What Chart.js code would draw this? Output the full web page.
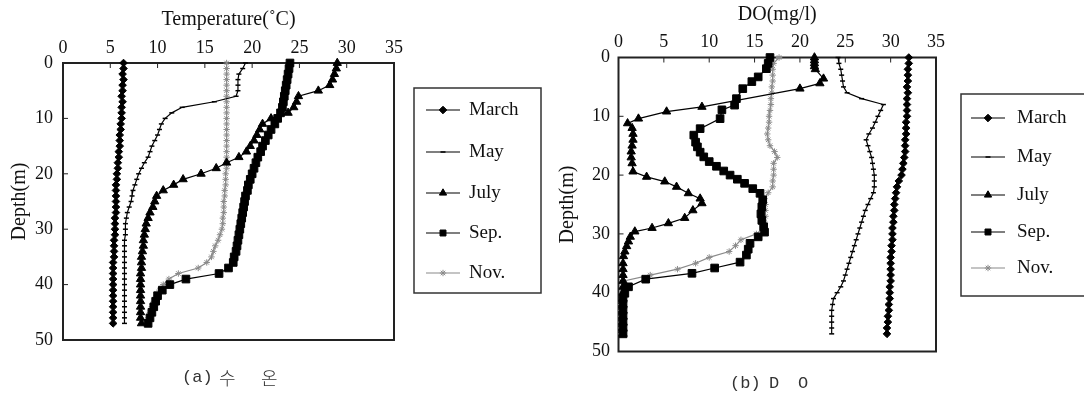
<!DOCTYPE html>
<html><head><meta charset="utf-8">
<script src="https://cdn.jsdelivr.net/npm/chart.js@4.4.1/dist/chart.umd.min.js"></script>
<style>
html,body{margin:0;padding:0;background:#fff;width:1084px;height:397px;overflow:hidden;position:relative}
canvas{position:absolute;top:0}
.cap{position:absolute;font-family:"Liberation Mono","Noto Sans CJK KR",monospace;font-size:17px;color:#333;line-height:18px;white-space:pre}
.hg{font-family:"Noto Sans CJK KR",sans-serif;font-weight:300;font-size:18px}
</style></head><body>
<canvas id="c1" width="548" height="397" style="left:0"></canvas>
<canvas id="c2" width="534" height="397" style="left:550px"></canvas>
<div class="cap" style="left:182px;top:369px">(a)</div>
<div class="cap hg" style="left:219px;top:368px">수</div>
<div class="cap hg" style="left:261px;top:368px">온</div>
<div class="cap" style="left:730px;top:375px">(b)</div>
<div class="cap" style="left:769px;top:375px">D</div>
<div class="cap" style="left:798px;top:375px">O</div>
<script>
// ---------- data ----------
const seriesNames = ['March','May','July','Sep.','Nov.'];
const xTicksTemp = [0,5,10,15,20,25,30,35];
const xTicksDO = [0,5,10,15,20,25,30,35];
const depthTicks = [0,10,20,30,40,50];

const depth0to47 = [0,1,2,3,4,5,6,7,8,9,10,11,12,13,14,15,16,17,18,19,20,21,22,23,24,25,26,27,28,29,30,31,32,33,34,35,36,37,38,39,40,41,42,43,44,45,46,47];
const depth0to46 = [0,1,2,3,4,5,6,7,8,9,10,11,12,13,14,15,16,17,18,19,20,21,22,23,24,25,26,27,28,29,30,31,32,33,34,35,36,37,38,39,40,41,42,43,44,45,46];

// Temperature (deg C)
const tempMarch = [6.4,6.4,6.3,6.4,6.3,6.3,6.2,6.3,6.2,6.2, 6.2,6.1,6.1,6.0,6.0,6.0,5.9,5.9,5.8,5.8, 5.7,5.7,5.6,5.6,5.6,5.6,5.6,5.6,5.5,5.5, 5.5,5.5,5.4,5.4,5.4,5.4,5.3,5.3,5.3,5.3, 5.3,5.3,5.3,5.3,5.3,5.3,5.3,5.3];
const tempMay = [19.3,19.0,18.6,18.5,18.5,18.5,18.3,16.0,12.6,11.5, 10.8,10.4,10.2,10.0,9.7,9.4,9.2,9.0,8.6,8.3, 8.0,7.8,7.6,7.4,7.3,7.2,7.0,6.8,6.7,6.6, 6.6,6.6,6.5,6.5,6.5,6.5,6.5,6.5,6.5,6.5, 6.5,6.5,6.5,6.5,6.5,6.5,6.5,6.5];
const tempJuly = [29.0,28.9,28.7,28.5,28.2,27.0,24.9,24.7,24.4,23.8, 22.0,21.1,20.8,20.5,20.2,19.8,19.4,18.6,17.3,16.2, 14.6,12.7,11.7,10.6,9.9,9.7,9.5,9.2,9.0,8.8, 8.7,8.6,8.5,8.5,8.4,8.3,8.3,8.3,8.2,8.2, 8.2,8.2,8.2,8.2,8.2,8.2,8.2,8.3];
const tempSep = [24.0,23.9,23.8,23.7,23.6,23.5,23.4,23.3,23.2,23.0, 22.7,22.4,22.0,21.7,21.4,21.1,20.9,20.6,20.4,20.2, 20.0,19.8,19.6,19.5,19.3,19.2,19.1,19.0,18.9,18.8, 18.7,18.6,18.5,18.4,18.3,18.1,18.0,17.5,16.5,13.0, 11.3,10.5,10.0,9.8,9.6,9.4,9.2,9.0];
const tempNov = [17.3,17.3,17.3,17.3,17.3,17.3,17.3,17.3,17.3,17.3, 17.3,17.3,17.3,17.3,17.3,17.3,17.3,17.3,17.3,17.3, 17.2,17.2,17.2,17.1,17.1,17.0,17.0,17.0,16.9,16.9, 16.8,16.6,16.4,16.1,15.9,15.7,15.2,14.3,12.2,11.2, 10.6,10.2,9.9,9.6,9.4,9.2,9.0];

// DO (mg/l)
const doMarch = [32.0,32.0,31.9,31.9,31.9,31.8,31.9,31.8,31.8,31.8, 31.8,31.7,31.7,31.7,31.6,31.6,31.6,31.5,31.4,31.3, 31.2,30.9,30.7,30.6,30.5,30.4,30.4,30.3,30.3,30.2, 30.2,30.2,30.1,30.1,30.0,30.0,30.0,30.0,30.0,29.9, 29.9,29.9,29.8,29.8,29.7,29.7,29.6,29.6];
const doMay = [24.2,24.3,24.5,24.6,24.7,24.8,25.2,26.8,29.2,28.9, 28.6,28.3,28.0,27.6,27.3,27.5,27.7,27.9,28.0,28.1, 28.2,28.2,28.2,28.1,27.8,27.5,27.2,27.0,26.8,26.6, 26.4,26.2,26.0,25.8,25.6,25.4,25.2,25.0,24.8,24.5, 24.1,23.7,23.6,23.5,23.5,23.5,23.5,23.5];
const doJulyDepth = [0,0.5,1,1.5,2,3.6,4.4,5.3,8.4,9.2,10.4,11.2,12,13,14,15,16,17,18,19.4,20.3,21.1,22,23.1,24,24.8,26,27.3,28.2,29,29.6,30.5,31.3,32.1,33,33.8,35,36,37,38,39,40,41,42,43,44,45,46,47];
const doJuly = [21.6,21.6,21.6,21.6,21.7,22.6,22.2,20.0,9.2,5.3,2.2,1.0,1.5,1.6,1.6,1.5,1.4,1.4,1.5,1.6,3.1,5.1,6.4,7.7,9.0,9.2,8.2,7.3,5.5,3.7,1.8,1.3,1.1,0.9,0.7,0.55,0.5,0.5,0.5,0.5,0.5,0.5,0.5,0.5,0.5,0.5,0.5,0.5,0.5];
const doSepDepth = [0,1,1.9,3.3,4.1,5.3,7,8.1,8.9,10.4,12.1,13.2,14.4,15.2,16.1,16.9,17.7,18.5,19.3,20,20.7,21.4,22.3,23.1,24.2,25.4,26.6,27.7,28.8,29.7,30.5,31.6,32.6,33.6,34.8,35.8,36.7,37.7,39,40.1,41,42,43,44,45,46,47];
const doSep = [16.7,16.5,16.3,15.4,14.7,13.7,13.0,12.8,11.4,11.2,9.0,8.3,8.5,8.7,9.0,9.4,10.0,10.8,11.6,12.3,13.1,13.9,14.8,15.6,15.9,15.8,15.7,15.8,16.0,16.1,15.4,14.5,14.3,14.1,13.4,10.6,8.1,3.0,1.1,0.7,0.5,0.5,0.5,0.5,0.5,0.5,0.5];
const doNov = [17.7,17.1,17.0,17.0,17.0,16.9,16.9,16.8,16.8,16.7, 16.6,16.6,16.5,16.4,16.5,16.7,17.2,17.5,17.1,17.1, 17.1,17.0,17.0,16.5,16.1,16.2,16.2,16.2,16.1,16.0, 15.2,13.5,12.9,12.2,10.0,8.5,6.5,3.5,0.6,0.5, 0.4,0.4,0.3,0.3,0.3,0.3,0.3,0.3];

// ---------- styles ----------
const SERIF = '"Liberation Serif","Times New Roman",serif';
const looks = [
  {pointStyle:'rectRot', r:3.8, color:'#000', bw:1},
  {pointStyle:'line', r:2.5, color:'#000', bw:1.5},
  {pointStyle:'triangle', r:4.8, color:'#000', bw:1},
  {pointStyle:'rect', r:5.4, color:'#000', bw:1},
  {pointStyle:'star', r:3.2, color:'#8a8a8a', bw:1}
];

function mk(i, depths, vals){
  const lk = looks[i];
  return {
    label: seriesNames[i],
    data: vals.map((v, k) => ({x: v, y: depths[k]})),
    showLine: true,
    borderColor: lk.color,
    borderWidth: 1.2,
    backgroundColor: lk.color,
    pointStyle: lk.pointStyle,
    pointRadius: lk.r,
    pointBackgroundColor: lk.color,
    pointBorderColor: lk.color,
    pointBorderWidth: lk.bw,
    pointHoverRadius: lk.r,
    clip: false
  };
}

const frame = {
  id: 'frame',
  beforeDatasetsDraw(chart, args, o) {
    const {ctx, chartArea: a} = chart;
    const x = chart.scales.x, y = chart.scales.y;
    ctx.save();
    ctx.strokeStyle = '#222';
    ctx.lineWidth = 1;
    x.ticks.forEach(t => {
      const px = x.getPixelForValue(t.value);
      if (px > a.left + 2 && px < a.right - 2) { ctx.beginPath(); ctx.moveTo(px, a.top); ctx.lineTo(px, a.top + 5); ctx.stroke(); }
    });
    y.ticks.forEach(t => {
      const py = y.getPixelForValue(t.value);
      if (py > a.top + 2 && py < a.bottom - 2) { ctx.beginPath(); ctx.moveTo(a.left, py); ctx.lineTo(a.left + 5, py); ctx.stroke(); }
    });
    ctx.lineWidth = o.lw || 2;
    ctx.strokeRect(a.left, a.top, a.right - a.left, a.bottom - a.top);
    ctx.restore();
  }
};

function fallbackPoint(ctx, style, r, cx, cy){
  ctx.beginPath();
  if (style === 'rect') { const s = r*Math.SQRT1_2; ctx.rect(cx-s, cy-s, 2*s, 2*s); ctx.fill(); }
  else if (style === 'rectRot') { ctx.moveTo(cx, cy-r); ctx.lineTo(cx+r, cy); ctx.lineTo(cx, cy+r); ctx.lineTo(cx-r, cy); ctx.closePath(); ctx.fill(); }
  else if (style === 'triangle') { ctx.moveTo(cx, cy-r); ctx.lineTo(cx+r*0.866, cy+r/2); ctx.lineTo(cx-r*0.866, cy+r/2); ctx.closePath(); ctx.fill(); }
  else if (style === 'line') { ctx.moveTo(cx-r, cy); ctx.lineTo(cx+r, cy); ctx.stroke(); }
  else { ctx.moveTo(cx-r, cy-r); ctx.lineTo(cx+r, cy+r); ctx.moveTo(cx+r, cy-r); ctx.lineTo(cx-r, cy+r); ctx.moveTo(cx, cy-r); ctx.lineTo(cx, cy+r); ctx.moveTo(cx-r, cy); ctx.lineTo(cx+r, cy); ctx.stroke(); }
}

const boxLegend = {
  id: 'boxLegend',
  afterDraw(chart, args, o) {
    const ctx = chart.ctx;
    ctx.save();
    ctx.strokeStyle = '#333';
    ctx.lineWidth = 1.5;
    ctx.strokeRect(o.x0, o.y0, o.x1 - o.x0, o.y1 - o.y0);
    chart.data.datasets.forEach((ds, i) => {
      const yy = o.rows[i];
      ctx.strokeStyle = ds.borderColor;
      ctx.lineWidth = 1.2;
      ctx.beginPath(); ctx.moveTo(o.lx0, yy); ctx.lineTo(o.lx1, yy); ctx.stroke();
      ctx.fillStyle = ds.pointBackgroundColor;
      ctx.strokeStyle = ds.pointBorderColor;
      ctx.lineWidth = ds.pointBorderWidth;
      const cx = (o.lx0 + o.lx1) / 2;
      const r = Math.min(ds.pointRadius, 4.2);
      if (Chart.helpers && Chart.helpers.drawPoint) {
        Chart.helpers.drawPoint(ctx, {pointStyle: ds.pointStyle, rotation: 0, radius: r, borderWidth: ds.pointBorderWidth}, cx, yy);
      } else {
        fallbackPoint(ctx, ds.pointStyle, r, cx, yy);
      }
      ctx.fillStyle = '#111';
      ctx.font = '19px ' + SERIF;
      ctx.textBaseline = 'middle';
      ctx.textAlign = 'left';
      ctx.fillText(ds.label, o.tx, yy);
    });
    ctx.restore();
  }
};

function makeChart(id, title, datasets, geo, legendOpts){
  return new Chart(document.getElementById(id), {
    type: 'scatter',
    data: {datasets},
    options: {
      responsive: false,
      animation: false,
      devicePixelRatio: 1,
      layout: {padding: geo.pad},
      plugins: {legend: {display: false}, tooltip: {enabled: false}, frame: {lw: 2}, boxLegend: legendOpts},
      scales: {
        x: {
          type: 'linear', position: 'top', min: 0, max: 35,
          afterBuildTicks: s => { s.ticks = geo.xTicks.map(v => ({value: v})); },
          afterFit: s => { s.height = geo.xH; },
          grid: {display: false, drawTicks: false},
          border: {display: false},
          ticks: {padding: geo.xPad, color: '#111', font: {family: SERIF, size: 18}, maxRotation: 0, autoSkip: false},
          title: {display: true, text: title, color: '#111', padding: 0, font: {family: SERIF, size: 20}}
        },
        y: {
          type: 'linear', position: 'left', reverse: true, min: 0, max: 50,
          afterBuildTicks: s => { s.ticks = depthTicks.map(v => ({value: v})); },
          afterFit: s => { s.width = geo.yW; },
          grid: {display: false, drawTicks: false},
          border: {display: false},
          ticks: {padding: geo.yPad, color: '#111', font: {family: SERIF, size: 18}},
          title: {display: true, text: 'Depth(m)', color: '#111', padding: 0, font: {family: SERIF, size: 20}}
        }
      }
    },
    plugins: [frame, boxLegend]
  });
}

makeChart('c1', 'Temperature(˚C)', [
  mk(0, depth0to47, tempMarch),
  mk(1, depth0to47, tempMay),
  mk(2, depth0to47, tempJuly),
  mk(3, depth0to47, tempSep),
  mk(4, depth0to46, tempNov)
], {pad: {left: 8, top: 8, right: 154, bottom: 57}, xH: 55, yW: 55, xPad: 4, yPad: 10, xTicks: xTicksTemp},
{x0: 414, y0: 88, x1: 541, y1: 293, rows: [110, 152, 193, 233, 273], lx0: 426, lx1: 460, tx: 469});

makeChart('c2', 'DO(mg/l)', [
  mk(0, depth0to47, doMarch),
  mk(1, depth0to47, doMay),
  mk(2, doJulyDepth, doJuly),
  mk(3, doSepDepth, doSep),
  mk(4, depth0to47, doNov)
], {pad: {left: 5.5, top: 3, right: 148, bottom: 45.5}, xH: 54.5, yW: 63, xPad: 4, yPad: 8.5, xTicks: xTicksDO},
{x0: 411, y0: 94, x1: 545, y1: 296, rows: [118, 157, 195, 232, 268], lx0: 421, lx1: 455, tx: 467});
</script>
</body></html>
